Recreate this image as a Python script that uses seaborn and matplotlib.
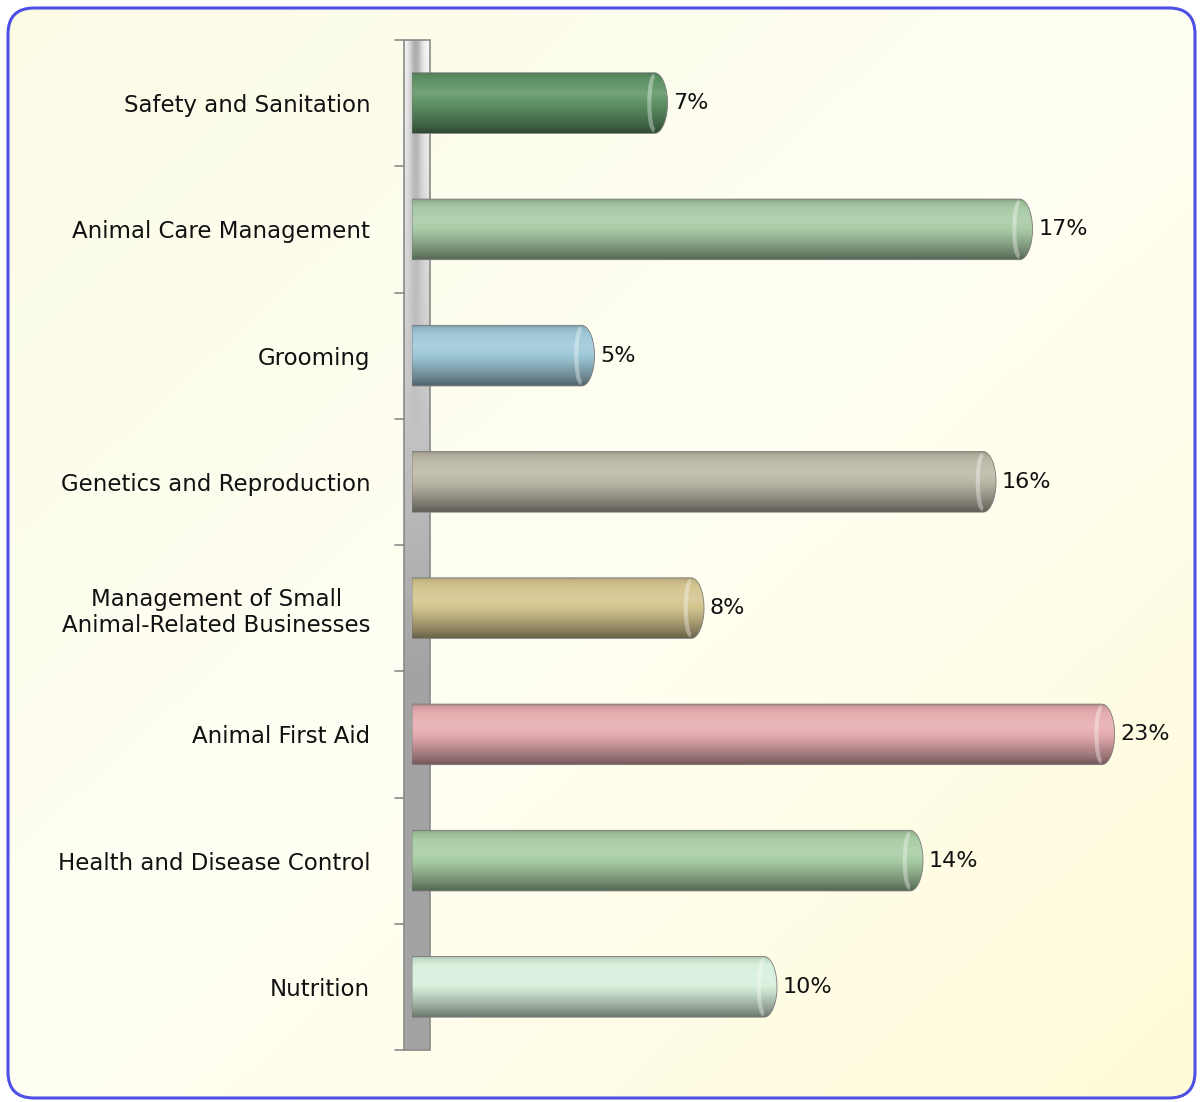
import numpy as np
import seaborn as sns
import matplotlib.pyplot as plt
from matplotlib.patches import FancyBboxPatch, PathPatch, Rectangle, Arc
from matplotlib.path import Path
from matplotlib.colors import to_rgb

# data
categories = ["Safety and Sanitation", "Animal Care Management", "Grooming",
              "Genetics and Reproduction",
              "Management of Small\nAnimal-Related Businesses",
              "Animal First Aid", "Health and Disease Control", "Nutrition"]
shares = [7, 17, 5, 16, 8, 23, 14, 10]
bar_colors = ["#5f9466", "#a9cba6", "#9fc8d8", "#bdb9a8",
              "#d4c58f", "#e6adb0", "#a8cda4", "#d8f0dc"]

sns.set_theme(style="white")
plt.rcParams['font.family'] = ['DejaVu Sans']

W, H = 1201, 1102
fig = plt.figure(figsize=(W / 100, H / 100), dpi=100)
fig.patch.set_facecolor("white")

# background frame, drawn in pixel coordinates
bg = fig.add_axes([0, 0, 1, 1], zorder=0)
bg.set_xlim(0, W)
bg.set_ylim(H, 0)
bg.axis("off")

yy, xx = np.mgrid[0:1:200j, 0:1:200j]
d = (xx + yy) / 2
c0 = np.array(to_rgb("#fcfbe6"))
c1 = np.array(to_rgb("#fffff4"))
c2 = np.array(to_rgb("#fffbd8"))
t = d[..., None]
grad = np.where(t < 0.5, c0 + (c1 - c0) * (t / 0.5), c1 + (c2 - c1) * ((t - 0.5) / 0.5))
img = bg.imshow(grad, extent=(0, W, H, 0), origin="upper", aspect="auto", zorder=0)
frame = FancyBboxPatch((8, 8), W - 14, H - 12, boxstyle="round,pad=0,rounding_size=26",
                       fc="none", ec="#4f4fe6", lw=2.2, zorder=3)
bg.add_patch(frame)
img.set_clip_path(frame)

# the grey axis wall
wall_x0, wall_x1, wall_top, wall_bot = 404, 430, 40, 1050
wy = np.linspace(0, 1, 200)[:, None]
wx = np.linspace(0, 1, 40)[None, :]
shade = 0.97 - 0.33 * np.clip(wy * 1.6, 0, 1)
center = 1 - 0.3 * np.exp(-((wx - 0.45) / 0.25) ** 2) * (1 - np.clip(wy * 2.5, 0, 1))
wall = np.clip(shade * center, 0, 1)
bg.imshow(np.dstack([wall] * 3), extent=(wall_x0, wall_x1, wall_bot, wall_top),
          origin="upper", aspect="auto", zorder=1)
bg.add_patch(Rectangle((wall_x0, wall_top), wall_x1 - wall_x0, wall_bot - wall_top,
                       fc="none", ec="#8a8a8a", lw=1.2, zorder=2))
for k in range(len(categories) + 1):
    ty = wall_top + k * (wall_bot - wall_top) / len(categories)
    bg.plot([395, wall_x0], [ty, ty], color="#8a8a8a", lw=1.2, zorder=2)

# main chart axes
ax_left, ax_right = 412, 1115
ax = fig.add_axes([ax_left / W, (H - wall_bot) / H, (ax_right - ax_left) / W,
                   (wall_bot - wall_top) / H], zorder=2)
ax.patch.set_alpha(0)

sns.barplot(x=shares, y=categories, orient="h", width=0.48, ax=ax,
            color="grey", saturation=1)

xmax = 19.26
px_per_unit = (ax_right - ax_left) / xmax
cap = 13 / px_per_unit

rows = np.linspace(0, 1, 120)
prof_t = [0.0, 0.05, 0.15, 0.35, 0.6, 0.85, 1.0]
prof_f = [0.78, 0.92, 1.0, 1.1, 0.92, 0.68, 0.5]
factor = np.interp(rows, prof_t, prof_f)

for p, col, v in zip(ax.patches, bar_colors, shares):
    p.set_visible(False)
    x0, y0, h = p.get_x(), p.get_y(), p.get_height()
    w = min(p.get_width(), xmax - 0.01)
    yc = y0 + h / 2
    base = np.array(to_rgb(col))
    shaded = np.where(factor[:, None] > 1,
                      base + (1 - base) * (factor[:, None] - 1) * 1.3,
                      base * factor[:, None])
    shaded = np.clip(shaded, 0, 1)[:, None, :]

    ang = np.linspace(0, np.pi, 40)
    pts = [(x0, y0), (x0 + w - cap, y0)]
    pts += [(x0 + w - cap + cap * np.sin(a), yc - h / 2 * np.cos(a)) for a in ang]
    pts += [(x0, y0 + h), (x0, y0)]
    shape = PathPatch(Path(pts, closed=True), fc="none", ec="#7a7a7a", lw=0.6,
                      transform=ax.transData, zorder=4)
    ax.add_patch(shape)
    im = ax.imshow(shaded, extent=(x0, x0 + w, y0 + h, y0), origin="upper",
                   aspect="auto", zorder=3)
    im.set_clip_path(shape)
    ax.add_patch(Arc((x0 + w - cap, yc), cap * 0.8, h * 0.9, theta1=90, theta2=270,
                     color="white", alpha=0.35, lw=3, zorder=4))

    ax.annotate(f"{v}%", xy=(x0 + w, yc), xytext=(4, 0), textcoords="offset points",
                ha="left", va="center", fontsize=16, color="#111111",
                annotation_clip=False)

ax.set_xlim(0, xmax)
ax.set_ylim(len(categories) - 0.5, -0.5)
ax.set_xticks([])
ax.set_xlabel("")
ax.set_ylabel("")
ax.tick_params(axis="y", length=0, pad=30, labelsize=16.5, labelcolor="#111111")
for lab in ax.get_yticklabels():
    lab.set_multialignment("center")
for s in ax.spines.values():
    s.set_visible(False)

plt.savefig("out.png", dpi=100)
